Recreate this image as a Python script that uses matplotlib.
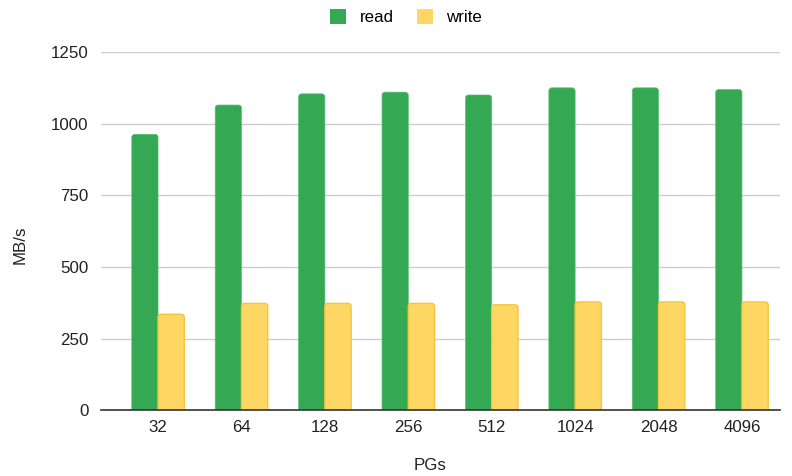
import numpy as np
import matplotlib.pyplot as plt
from matplotlib.patches import FancyBboxPatch, Rectangle

plt.rcParams['font.family'] = ['Liberation Sans', 'DejaVu Sans']

pgs = ['32', '64', '128', '256', '512', '1024', '2048', '4096']
read_mbs = [963, 1065, 1104, 1110, 1100, 1125, 1125, 1119]
write_mbs = [335, 373, 373, 373, 368, 378, 378, 378]
y_ticks = [0, 250, 500, 750, 1000, 1250]

GREEN = '#34A853'
YELLOW = '#FDD663'
YELLOW_EDGE = '#F4C53D'
TEXT = '#222222'
FS = 12.2

fig = plt.figure(figsize=(7.92, 4.76), dpi=100)
ax = fig.add_axes([101 / 792, 1 - 410.3 / 476, (780 - 101) / 792, (410.3 - 52) / 476])

x = np.arange(len(pgs))
w = 0.315
ax.set_xlim(-0.684, len(pgs) - 1 + 0.456)
ax.set_ylim(0, 1250)

# bars with rounded top corners; aspect corrects for the data-unit scales
x_per_px = (ax.get_xlim()[1] - ax.get_xlim()[0]) / (780 - 101)
y_per_px = 1250 / (410.3 - 52)
aspect = y_per_px / x_per_px
r = 3 * x_per_px


def rounded_bar(xc, h, color, edge, lw):
    p = FancyBboxPatch((xc - w / 2, -40), w, h + 40,
                       boxstyle=f'round,pad=0,rounding_size={r}',
                       mutation_aspect=aspect, facecolor=color,
                       edgecolor=edge, linewidth=lw, zorder=3)
    ax.add_patch(p)


for i in range(len(pgs)):
    rounded_bar(x[i] - w / 2, read_mbs[i], GREEN, '#5cbf78', 0.5)
    rounded_bar(x[i] + w / 2, write_mbs[i], YELLOW, YELLOW_EDGE, 1.0)

ax.set_yticks(y_ticks)
ax.set_xticks(x)
ax.set_xticklabels(pgs)
ax.grid(axis='y', color='#cccccc', linewidth=1)
ax.set_axisbelow(True)
for s in ['top', 'right', 'left']:
    ax.spines[s].set_visible(False)
ax.spines['bottom'].set_color('#333333')
ax.spines['bottom'].set_linewidth(1.2)
ax.spines['bottom'].set_zorder(4)
ax.tick_params(length=0, labelsize=FS, colors=TEXT)
ax.tick_params(axis='y', pad=9)
ax.tick_params(axis='x', pad=7)

fig.text(20 / 792, 1 - 245 / 476, 'MB/s', rotation=90, ha='center', va='center',
         fontsize=FS, color=TEXT)
fig.text(430 / 792, 1 - 466 / 476, 'PGs', ha='center', va='center',
         fontsize=FS, color=TEXT)

# legend across the top
h1 = Rectangle((0, 0), 1, 1, facecolor=GREEN, edgecolor='none')
h2 = Rectangle((0, 0), 1, 1, facecolor=YELLOW, edgecolor='none')
fig.legend([h1, h2], ['read', 'write'], loc='center', bbox_to_anchor=(406 / 792, 1 - 17 / 476),
           ncol=2, frameon=False, fontsize=FS, handlelength=0.95, handleheight=0.95,
           columnspacing=1.35, handletextpad=0.8)

fig.savefig('out.png', dpi=100, facecolor='white')
